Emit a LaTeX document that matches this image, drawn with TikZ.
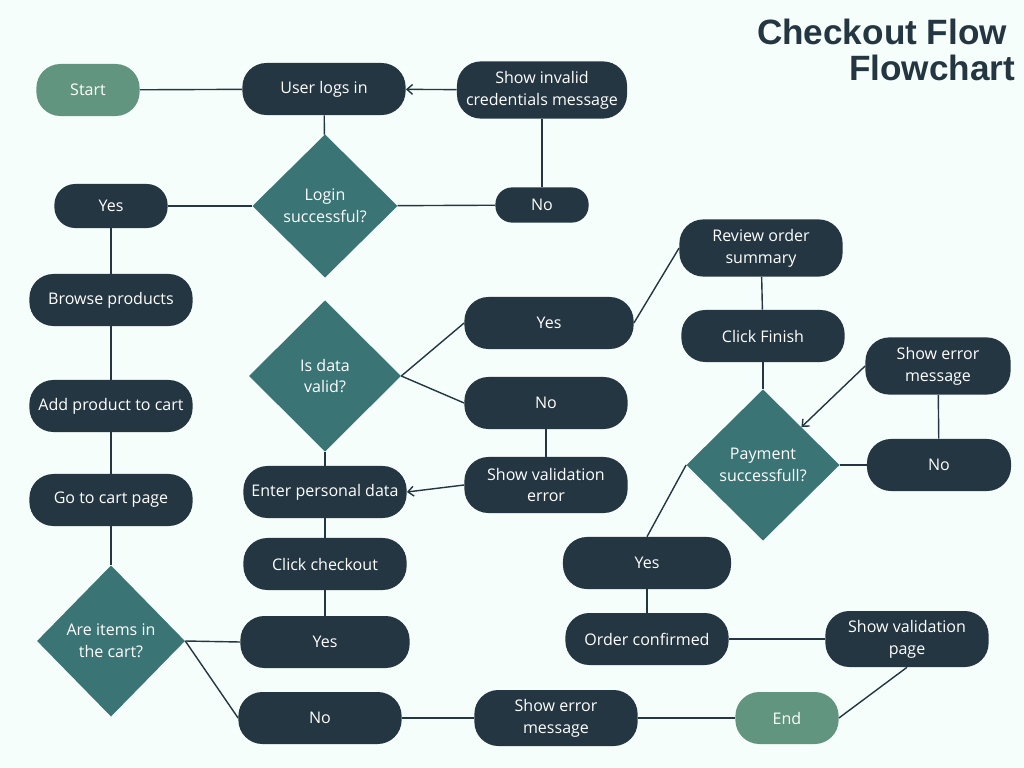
\documentclass[tikz,border=0pt]{standalone}
\usepackage{fontspec}
\setmainfont{Open Sans}
\newfontfamily\titlefont{Liberation Sans}
\usetikzlibrary{arrows.meta, shapes.geometric, positioning}

\definecolor{bgmint}{HTML}{F5FEFA}
\definecolor{boxdark}{HTML}{243642}
\definecolor{diateal}{HTML}{3A7475}
\definecolor{termgreen}{HTML}{62957F}

\tikzset{
  proc/.style = {
    rectangle, rounded corners=0.6cm, fill=boxdark, text=white,
    minimum width=4.08cm, minimum height=1.3cm, inner sep=2pt,
    align=center, font=\fontsize{11.4}{15.5}\selectfont
  },
  term/.style = {proc, fill=termgreen, minimum width=2.58cm},
  decision/.style = {
    diamond, fill=diateal, text=white, inner sep=0pt,
    minimum width=3.8cm, minimum height=3.78cm,
    align=center, font=\fontsize{11.4}{15.5}\selectfont
  },
  link/.style = {draw=boxdark, line width=1pt},
  back/.style = {link, -{Straight Barb[length=4pt, width=7pt]}}
}

\begin{document}
\begin{tikzpicture}[x=0.025cm, y=-0.025cm]

  % background
  \fill[bgmint] (0,0) rectangle (1024,768);
  \useasboundingbox (0,0) rectangle (1024,768);

  % Title
  \node[anchor=north east, align=right, text=boxdark,
        font=\titlefont\bfseries\fontsize{25}{25.5}\selectfont] (title) at (1020,14)
    {Checkout Flow\hspace*{5.7pt}\\Flowchart};

  % Login
  \node[term] (start) at (88,90) {Start};
  \node[proc] (login) at (324,89) {User logs in};
  \node[proc, minimum width=4.25cm, minimum height=1.43cm] (badcred) at (542,90) {Show invalid\\credentials message};
  \node[decision, minimum width=3.63cm, minimum height=3.58cm] (loginok) at (325,206) {Login\\successful?};
  \node[proc, minimum width=2.83cm, minimum height=1.1cm, rounded corners=0.52cm] (loginyes) at (111,206) {Yes};
  \node[proc, minimum width=2.33cm, minimum height=0.88cm, rounded corners=0.42cm] (loginno) at (542,205) {No};

  % Shopping
  \node[proc] (browse) at (111,300) {Browse products};
  \node[proc] (addcart) at (111,406) {Add product to cart};
  \node[proc] (gocart) at (111,500) {Go to cart page};
  \node[decision, minimum width=3.7cm] (incart) at (111,641) {Are items in\\the cart?};
  \node[proc, minimum width=4.23cm] (cartyes) at (325,642) {Yes};
  \node[proc] (cartno) at (320,718) {No};
  \node[proc, minimum height=1.4cm] (emptyerr) at (556,718) {Show error\\message};
  \node[term] (finish) at (787,718) {End};

  % Checkout data
  \node[proc] (checkout) at (325,564) {Click checkout};
  \node[proc] (persdata) at (325,492) {Enter personal data};
  \node[decision] (datavalid) at (325,376) {Is data\\valid?};
  \node[proc, minimum width=4.23cm] (datayes) at (549,323) {Yes};
  \node[proc] (datano) at (546,403) {No};
  \node[proc, minimum height=1.4cm] (valerr) at (546,485) {Show validation\\error};

  % Payment
  \node[proc, minimum height=1.43cm] (review) at (761,248) {Review order\\summary};
  \node[proc] (clickfin) at (763,336) {Click Finish};
  \node[decision, minimum width=3.83cm] (payok) at (763,465) {Payment\\successfull?};
  \node[proc, minimum width=3.6cm] (payno) at (939,465) {No};
  \node[proc, minimum width=3.63cm, minimum height=1.43cm] (payerr) at (938,366) {Show error\\message};
  \node[proc, minimum width=4.2cm] (payyes) at (647,563) {Yes};
  \node[proc] (confirmed) at (647,639) {Order confirmed};
  \node[proc, minimum height=1.4cm] (valpage) at (907,639) {Show validation\\page};

  % Connectors
  \draw[link] (start) -- (login);
  \draw[link] (login) -- (loginok);
  \draw[link] (loginok) -- (loginyes);
  \draw[link] (loginok) -- (loginno);
  \draw[link] (loginno) -- (badcred);
  \draw[back] (badcred) -- (login);

  \draw[link] (loginyes) -- (browse);
  \draw[link] (browse) -- (addcart);
  \draw[link] (addcart) -- (gocart);
  \draw[link] (gocart) -- (incart);
  \draw[link] (incart.east) -- (cartyes.west);
  \draw[link] (incart.east) -- (cartno.west);
  \draw[link] (cartno) -- (emptyerr);
  \draw[link] (emptyerr) -- (finish);

  \draw[link] (cartyes) -- (checkout);
  \draw[link] (checkout) -- (persdata);
  \draw[link] (persdata) -- (datavalid);
  \draw[link] (datavalid.east) -- (datayes.west);
  \draw[link] (datavalid.east) -- (datano.west);
  \draw[link] (datano) -- (valerr);
  \draw[back] (valerr.west) -- (persdata.east);

  \draw[link] (datayes.east) -- (review.west);
  \draw[link] (review) -- (clickfin);
  \draw[link] (clickfin) -- (payok);
  \draw[link] (payok.east) -- (payno.west);
  \draw[link] (payno) -- (payerr);
  \draw[back] (payerr.west) -- (payok.north east);
  \draw[link] (payok.west) -- (payyes.north);
  \draw[link] (payyes) -- (confirmed);
  \draw[link] (confirmed) -- (valpage);
  \draw[link] (valpage.south) -- (finish.east);

\end{tikzpicture}
\end{document}
